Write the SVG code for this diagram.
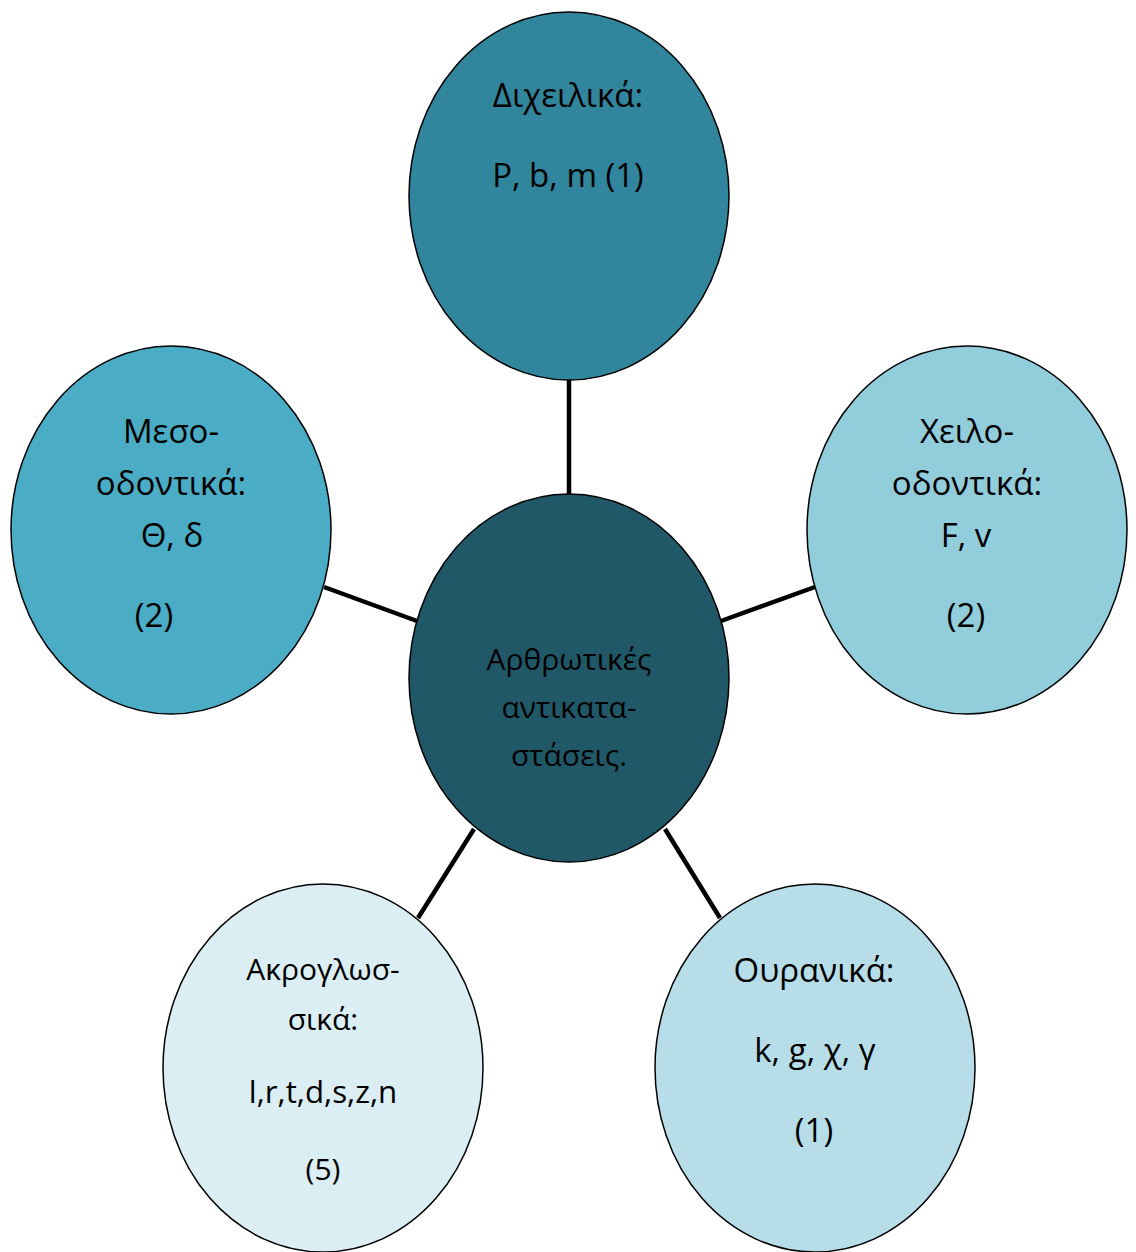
<svg xmlns="http://www.w3.org/2000/svg" width="1136" height="1252" viewBox="0 0 1136 1252">
<style>
.n{stroke:#000;stroke-width:1.5}
.t{font-family:"Open Sans","Noto Sans","DejaVu Sans",sans-serif;font-size:33px;fill:#000;text-anchor:middle}
.s{font-size:30px}
.m{font-size:30px}
.c{stroke:#000;stroke-width:4.5;fill:none}
</style>
<rect width="1136" height="1252" fill="#fff"/>
<g id="connectors">
<line class="c" x1="569" y1="380" x2="569" y2="494"/>
<line class="c" x1="324" y1="587" x2="417" y2="621"/>
<line class="c" x1="721" y1="621" x2="815" y2="587"/>
<line class="c" x1="474" y1="829" x2="418" y2="918"/>
<line class="c" x1="665" y1="829" x2="720" y2="918"/>
</g>
<g id="center">
<ellipse class="n" cx="569" cy="678" rx="160" ry="184" fill="#215868"/>
<text class="t m" x="569" y="670">Αρθρωτικές</text>
<text class="t m" x="569" y="718">αντικατα-</text>
<text class="t m" x="569" y="766">στάσεις.</text>
</g>
<g id="top">
<ellipse class="n" cx="569" cy="196" rx="160" ry="184" fill="#31859C"/>
<text class="t" x="568" y="107">Διχειλικά:</text>
<text class="t" x="568" y="187">P, b, m (1)</text>
</g>
<g id="left">
<ellipse class="n" cx="171" cy="530" rx="160" ry="184" fill="#4BACC6"/>
<text class="t" x="171" y="443">Μεσο-</text>
<text class="t" x="171" y="495">οδοντικά:</text>
<text class="t" x="172" y="547">Θ, δ</text>
<text class="t" x="154" y="627">(2)</text>
</g>
<g id="right">
<ellipse class="n" cx="967" cy="530" rx="160" ry="184" fill="#92CDDC"/>
<text class="t" x="967" y="443">Χειλο-</text>
<text class="t" x="967" y="495">οδοντικά:</text>
<text class="t" x="966" y="547">F, v</text>
<text class="t" x="966" y="627">(2)</text>
</g>
<g id="bottom-right">
<ellipse class="n" cx="815" cy="1068" rx="160" ry="184" fill="#B7DEE8"/>
<text class="t" x="814" y="982">Ουρανικά:</text>
<text class="t" x="815" y="1062">k, g, χ, γ</text>
<text class="t" x="814" y="1142">(1)</text>
</g>
<g id="bottom-left">
<ellipse class="n" cx="323" cy="1068" rx="160" ry="184" fill="#DAEEF3"/>
<text class="t s" x="323" y="980">Ακρογλωσ-</text>
<text class="t s" x="323" y="1030">σικά:</text>
<text class="t" x="323" y="1103" style="font-size:31.3px">l,r,t,d,s,z,n</text>
<text class="t s" x="323" y="1180">(5)</text>
</g>
</svg>
